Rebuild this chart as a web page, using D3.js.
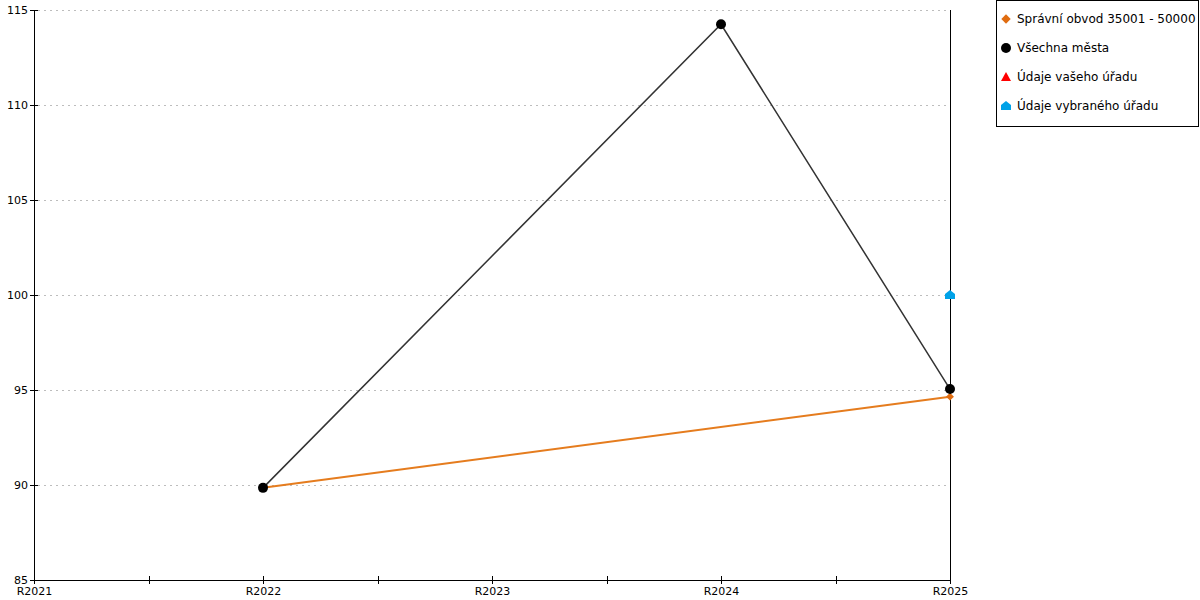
<!DOCTYPE html>
<html><head><meta charset="utf-8">
<script src="https://cdn.jsdelivr.net/npm/d3@7"></script>
<style>body{margin:0;background:#fff}svg{display:block}text{font-family:"DejaVu Sans",Verdana,sans-serif}</style>
</head><body><svg id="c" width="1200" height="600"></svg>
<script>
const categories = ["R2021","R2022","R2023","R2024","R2025"];
const yTicks = [85,90,95,100,105,110,115];
const seriesNames = ["Správní obvod 35001 - 50000","Všechna města","Údaje vašeho úřadu","Údaje vybraného úřadu"];
const obvodValues = [null, 89.85, null, null, 94.65];
const mestaValues = [null, 89.85, null, 114.25, 95.05];
const vasValues = [null, null, null, null, null];
const vybranyValues = [null, null, null, null, 100];

const svg = d3.select("#c");
const L=34,R=950,T=10,B=580;
const x = d3.scalePoint().domain(categories).range([L,R]);
const y = d3.scaleLinear().domain([85,115]).range([B,T]);

// grid
svg.append("g").selectAll("line").data(yTicks.slice(1)).join("line")
  .attr("x1",L+4).attr("x2",R).attr("y1",d=>Math.round(y(d))+0.5).attr("y2",d=>Math.round(y(d))+0.5)
  .attr("stroke","#bdbdbd").attr("stroke-dasharray","2,4");

// y axis
const ya = svg.append("g").attr("transform",`translate(${L},0)`)
  .call(d3.axisLeft(y).tickValues(yTicks).tickSize(0).tickPadding(6));
ya.select(".domain").attr("stroke","#000");
ya.selectAll(".tick line").remove();
ya.selectAll(".tick").append("line").attr("x1",-4).attr("x2",4).attr("stroke","#000");
ya.selectAll("text").attr("font-size",11).attr("fill","#000").attr("font-family","DejaVu Sans, Verdana, sans-serif");

// x axis
const xa = svg.append("g").attr("transform",`translate(0,${B})`)
  .call(d3.axisBottom(x).tickSize(0).tickPadding(7));
xa.select(".domain").attr("stroke","#000").attr("d",`M${L},0.5H${R}`);
xa.selectAll(".tick line").remove();
xa.selectAll(".tick").append("line").attr("y1",-4).attr("y2",4).attr("stroke","#000");
xa.selectAll("text").attr("font-size",11).attr("fill","#000").attr("font-family","DejaVu Sans, Verdana, sans-serif");
const mids = categories.slice(0,-1).map((c,i)=>(x(c)+x(categories[i+1]))/2);
xa.selectAll(".mid").data(mids).join("line").attr("class","mid")
  .attr("x1",d=>Math.round(d)+0.5).attr("x2",d=>Math.round(d)+0.5).attr("y1",-4).attr("y2",4).attr("stroke","#000");

// right vertical line
svg.append("line").attr("x1",R+0.5).attr("x2",R+0.5).attr("y1",T).attr("y2",B).attr("stroke","#000");

function pts(vals){return categories.map((c,i)=>({c,v:vals[i]})).filter(d=>d.v!=null);}
const line = d3.line().x(d=>x(d.c)).y(d=>y(d.v));

svg.append("path").datum(pts(obvodValues)).attr("d",line).attr("fill","none").attr("stroke","#e57c1e").attr("stroke-width",2);
svg.append("path").datum(pts(mestaValues)).attr("d",line).attr("fill","none").attr("stroke","#333").attr("stroke-width",1.5);

const diamond = d3.symbol().type(d3.symbolDiamond2).size(40);
svg.append("g").selectAll("path").data(pts(obvodValues)).join("path")
  .attr("transform",d=>`translate(${x(d.c)},${y(d.v)})`).attr("d",diamond).attr("fill","#e06c10");
svg.append("g").selectAll("circle").data(pts(mestaValues)).join("circle")
  .attr("cx",d=>x(d.c)).attr("cy",d=>y(d.v)).attr("r",5).attr("fill","#000");
const house = "M0,-5L5,-1L5,4L-5,4L-5,-1Z";
svg.append("g").selectAll("path").data(pts(vybranyValues)).join("path")
  .attr("transform",d=>`translate(${x(d.c)},${y(d.v)})`).attr("d",house).attr("fill","#00a2e8");

// legend
const lg = svg.append("g");
lg.append("rect").attr("x",996.5).attr("y",0.5).attr("width",202).attr("height",126).attr("fill","#fff").attr("stroke","#000");
const ly = [19,48,77,106];
seriesNames.forEach((n,i)=>{
  const g = lg.append("g").attr("transform",`translate(1006,${ly[i]})`);
  if(i===0) g.append("path").attr("d",d3.symbol().type(d3.symbolDiamond2).size(56)()).attr("fill","#e06c10");
  if(i===1) g.append("circle").attr("r",5).attr("fill","#000");
  if(i===2) g.append("path").attr("d","M0,-5L5,4L-5,4Z").attr("fill","#f00");
  if(i===3) g.append("path").attr("d",house).attr("fill","#00a2e8");
  g.append("text").attr("x",11).attr("y",4).attr("font-size",12).attr("textLength",null).attr("fill","#000").text(n);
});
</script></body></html>
